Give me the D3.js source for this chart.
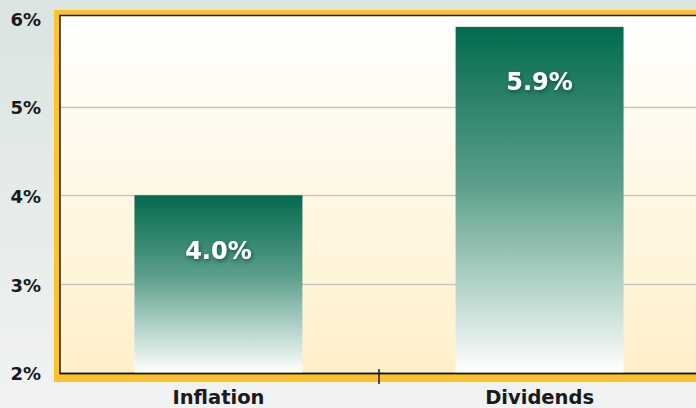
<!DOCTYPE html>
<html>
<head>
<meta charset="utf-8">
<script src="https://cdn.jsdelivr.net/npm/d3@7"></script>
<style>
  html, body { margin: 0; padding: 0; }
  body { width: 696px; height: 408px; overflow: hidden; }
  text { font-family: "DejaVu Sans", sans-serif; font-weight: bold; }
</style>
</head>
<body>
<div id="chart"></div>
<script>
const categories = ["Inflation", "Dividends"];
const values = [4.0, 5.9];
const yTicks = [2, 3, 4, 5, 6];

const width = 696, height = 408;
const frame = { left: 60, top: 15.5, bottom: 373.5 };

const svg = d3.select("#chart").append("svg")
    .attr("width", width)
    .attr("height", height);

const defs = svg.append("defs");

const bg = defs.append("linearGradient").attr("id", "bg").attr("x1", 0).attr("x2", 0).attr("y1", 0).attr("y2", 1);
bg.append("stop").attr("offset", "0%").attr("stop-color", "#dae4e0");
bg.append("stop").attr("offset", "100%").attr("stop-color", "#f1f3f2");

const plotBg = defs.append("linearGradient").attr("id", "plotBg").attr("x1", 0).attr("x2", 0).attr("y1", 0).attr("y2", 1);
plotBg.append("stop").attr("offset", "0%").attr("stop-color", "#ffffff");
plotBg.append("stop").attr("offset", "100%").attr("stop-color", "#fff0cb");

const barGrad = defs.append("linearGradient").attr("id", "barGrad").attr("x1", 0).attr("x2", 0).attr("y1", 0).attr("y2", 1);
barGrad.append("stop").attr("offset", "0%").attr("stop-color", "#036a4e");
barGrad.append("stop").attr("offset", "45%").attr("stop-color", "#5a9e8a");
barGrad.append("stop").attr("offset", "100%").attr("stop-color", "#ffffff");

const shadow = defs.append("filter").attr("id", "shadow").attr("x", "-20%").attr("y", "-30%").attr("width", "140%").attr("height", "160%");
shadow.append("feDropShadow").attr("dx", 1).attr("dy", 2).attr("stdDeviation", 2)
    .attr("flood-color", "#0a3a30").attr("flood-opacity", 0.75);

svg.append("rect").attr("width", width).attr("height", height).attr("fill", "url(#bg)");

const y = d3.scaleLinear().domain([2, 6]).range([372.5, 18]);
const x = d3.scaleBand().domain(categories).range([58, 700]).paddingInner(0.477).paddingOuter(0.238);

// yellow frame + plot background
svg.append("rect")
    .attr("x", 54).attr("y", 10)
    .attr("width", width).attr("height", 372)
    .attr("fill", "#fdc32b");
svg.append("rect")
    .attr("x", frame.left).attr("y", frame.top)
    .attr("width", width).attr("height", frame.bottom - frame.top)
    .attr("fill", "url(#plotBg)")
    .attr("stroke", "#1a1a1a").attr("stroke-width", 1.5);

// gridlines
svg.append("g")
    .selectAll("line")
    .data(yTicks.filter(d => d > 2 && d < 6))
    .join("line")
    .attr("x1", frame.left + 1).attr("x2", width)
    .attr("y1", d => Math.round(y(d)) + 0.5).attr("y2", d => Math.round(y(d)) + 0.5)
    .attr("stroke", "#c9c6bf").attr("stroke-width", 1.5);

// bars
svg.append("g")
    .selectAll("rect")
    .data(categories)
    .join("rect")
    .attr("x", d => x(d))
    .attr("y", (d, i) => y(values[i]))
    .attr("width", x.bandwidth())
    .attr("height", (d, i) => y(2) - y(values[i]))
    .attr("fill", "url(#barGrad)");

// value labels
svg.append("g")
    .selectAll("text")
    .data(categories)
    .join("text")
    .attr("x", d => x(d) + x.bandwidth() / 2)
    .attr("y", (d, i) => y(values[i]) + 63.5)
    .attr("text-anchor", "middle")
    .attr("fill", "#ffffff")
    .attr("font-size", 24)
    .attr("filter", "url(#shadow)")
    .text((d, i) => d3.format(".1f")(values[i]) + "%");

// redraw bottom axis line on top of bars
svg.append("line")
    .attr("x1", frame.left).attr("x2", width)
    .attr("y1", frame.bottom).attr("y2", frame.bottom)
    .attr("stroke", "#1a1a1a").attr("stroke-width", 1.5);

// y axis labels
const yAxis = d3.axisLeft(y).tickValues(yTicks).tickFormat(d => d + "%").tickSize(0).tickPadding(0);
svg.append("g")
    .attr("transform", "translate(41,0)")
    .call(yAxis)
    .call(g => g.select(".domain").remove())
    .call(g => g.selectAll("text")
        .attr("font-size", 18)
        .attr("dy", "0.4em")
        .attr("fill", "#1a1a1a")
        .attr("font-family", "DejaVu Sans, sans-serif"));

// x axis: category labels and middle tick
const xAxis = d3.axisBottom(x).tickSize(0).tickPadding(0);
svg.append("g")
    .attr("transform", "translate(0," + 403.5 + ")")
    .call(xAxis)
    .call(g => g.select(".domain").remove())
    .call(g => g.selectAll("text")
        .attr("dy", 0)
        .attr("font-size", 19.5)
        .attr("fill", "#1a1a1a")
        .attr("font-family", "DejaVu Sans, sans-serif"));

const mid = (x(categories[0]) + x.bandwidth() + x(categories[1])) / 2;
svg.append("line")
    .attr("x1", mid).attr("x2", mid)
    .attr("y1", 369).attr("y2", 384)
    .attr("stroke", "#1a1a1a").attr("stroke-width", 1.5);
</script>
</body>
</html>
